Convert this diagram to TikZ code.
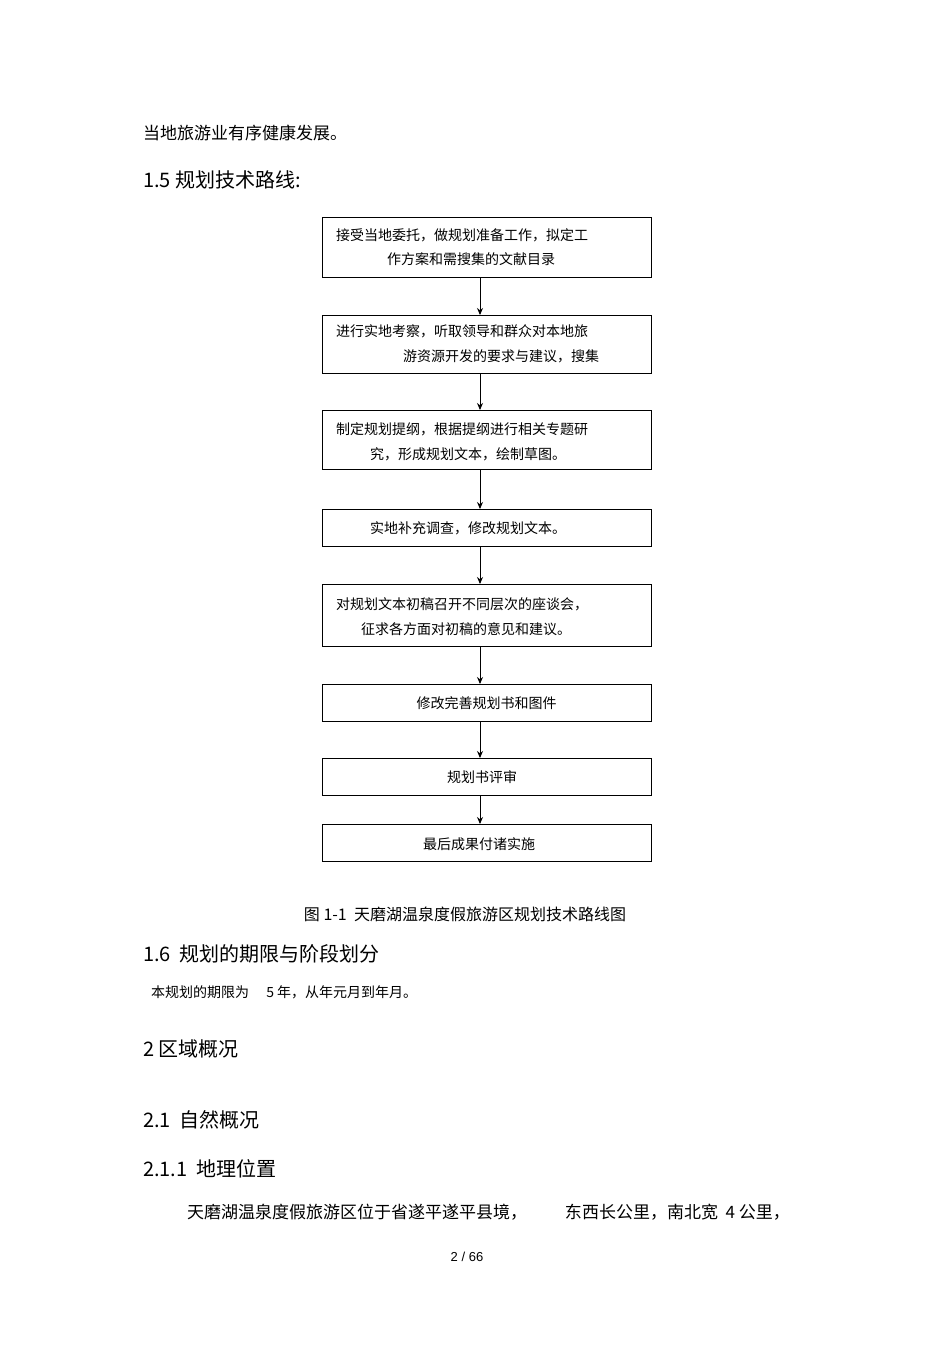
\documentclass[tikz,border=0pt]{standalone}
\usepackage{fontspec}
\setmainfont{Liberation Sans}
\newfontfamily\cjk{Noto Sans CJK SC}
\usetikzlibrary{arrows.meta}
\begin{document}
\begin{tikzpicture}[x=1pt,y=-1pt,
  box/.style={draw,line width=0.8pt},
  flow/.style={-{Stealth[length=7pt,width=6pt]},line width=0.9pt},
  bt/.style={anchor=west,inner sep=0,font=\fontsize{14}{14}\selectfont\cjk},
  body/.style={anchor=west,inner sep=0,font=\fontsize{17}{17}\selectfont\cjk},
  head/.style={anchor=west,inner sep=0,font=\fontsize{20}{20}\selectfont\cjk}]
\useasboundingbox[fill=white] (0,0) rectangle (950,1345);
\node[body] (t0) at (143,133) {当地旅游业有序健康发展。};
\node[head] (h15) at (143,180) {1.5 规划技术路线:};
% boxes
\foreach \n/\a/\b in {b1/217/277,b2/315/373,b3/410/469,b4/509/546,b5/584/646,b6/684/721,b7/758/795,b8/824/861}{
  \node[box,minimum width=329pt,minimum height={\b-\a},inner sep=0,anchor=north west] (\n) at (322,\a) {};
}
\node[bt] (l1a) at (336,235) {接受当地委托，做规划准备工作，拟定工};
\node[bt] (l1b) at (387,259) {作方案和需搜集的文献目录};
\node[bt] (l2a) at (336,331) {进行实地考察，听取领导和群众对本地旅};
\node[bt] (l2b) at (403,356) {游资源开发的要求与建议，搜集};
\node[bt] (l3a) at (336,429) {制定规划提纲，根据提纲进行相关专题研};
\node[bt] (l3b) at (370,454) {究，形成规划文本，绘制草图。};
\node[bt] (l4) at (370,528) {实地补充调查，修改规划文本。};
\node[bt] (l5a) at (336,604) {对规划文本初稿召开不同层次的座谈会，};
\node[bt] (l5b) at (361,629) {征求各方面对初稿的意见和建议。};
\node[bt,anchor=center] (l6) at (486.5,703) {修改完善规划书和图件};
\node[bt,anchor=center] (l7) at (482,777) {规划书评审};
\node[bt,anchor=center] (l8) at (479,844) {最后成果付诸实施};
\foreach \p/\q in {b1/b2,b2/b3,b3/b4,b4/b5,b5/b6,b6/b7,b7/b8}{
  \draw[flow] (\p.south -| 480,0) -- (\q.north -| 480,0);
}
\node[anchor=center,inner sep=0,font=\fontsize{16}{16}\selectfont\cjk] (cap) at (465,914) {图 1-1 \ 天磨湖温泉度假旅游区规划技术路线图};
\node[head] (h16) at (143,954) {1.6 \ 规划的期限与阶段划分};
\node[bt] (p16) at (151,992) {本规划的期限为 \quad 5 年，从年元月到年月。};
\node[head] (h2) at (143,1049) {2 区域概况};
\node[head] (h21) at (143,1120) {2.1 \ 自然概况};
\node[head] (h211) at (143,1169) {2.1.1 \ 地理位置};
\node[body] (p211) at (187,1212) {天磨湖温泉度假旅游区位于省遂平遂平县境， \qquad 东西长公里，南北宽 \ 4 公里，};
\node[anchor=center,inner sep=0,font=\fontsize{13}{13}\selectfont] (pg) at (467,1257) {2 / 66};
\end{tikzpicture}
\end{document}
